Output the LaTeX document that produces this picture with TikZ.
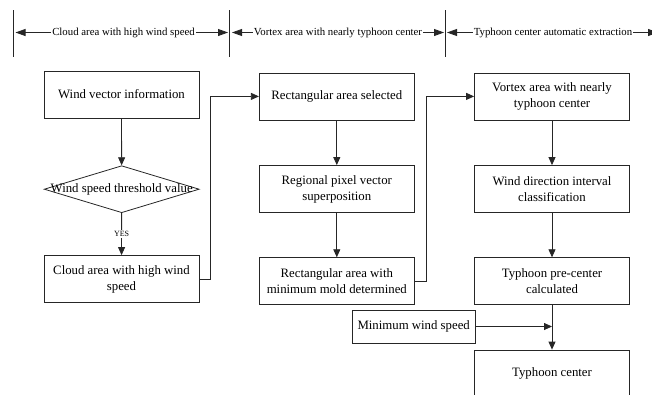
\documentclass[tikz,border=0pt]{standalone}
\usepackage{fontspec}
\setmainfont{Liberation Serif}
\usetikzlibrary{arrows.meta,shapes.geometric}
\begin{document}
\begin{tikzpicture}[x=1pt,y=-1pt,
  box/.style={draw=black!85, line width=0.8pt, minimum width=155pt, minimum height=47pt,
    inner sep=2pt, align=center, font=\fontsize{12.8}{16}\selectfont},
  dia/.style={draw=black!85, line width=0.8pt, diamond, minimum width=155pt, minimum height=47pt, inner sep=0pt},
  arr/.style={draw=black!85, line width=0.8pt, -{Triangle[length=8pt,width=7pt]}},
  harr/.style={draw=black!85, line width=0.8pt, -{Triangle[length=10pt,width=7pt]}},
  vline/.style={draw=black!85, line width=0.8pt},
  htxt/.style={inner sep=1pt, font=\fontsize{10.8}{13}\selectfont},
  yes/.style={fill=white, inner sep=1pt, font=\fontsize{8}{10}\selectfont}]
\useasboundingbox (0,0) rectangle (652,394);
% header
\coordinate (v1t) at (13.5,10); \coordinate (v1b) at (13.5,57);
\coordinate (v2t) at (229,10);  \coordinate (v2b) at (229,57);
\coordinate (v3t) at (445,10);  \coordinate (v3b) at (445,57);
\draw[vline] (v1t) -- (v1b);
\draw[vline] (v2t) -- (v2b);
\draw[vline] (v3t) -- (v3b);
\node[htxt] (h1) at (123.5,32.5) {Cloud area with high wind speed};
\node[htxt] (h2) at (338,32.5) {Vortex area with nearly typhoon center};
\node[htxt] (h3) at (553,32.5) {Typhoon center automatic extraction};
\coordinate (a1l) at (15.5,32.5); \coordinate (a1r) at (228,32.5);
\coordinate (a2l) at (232,32.5); \coordinate (a2r) at (444,32.5);
\coordinate (a3l) at (447,32.5); \coordinate (a3r) at (658,32.5);
\draw[harr] (h1.west) -- (a1l);
\draw[harr] (h1.east) -- (a1r);
\draw[harr] (h2.west) -- (a2l);
\draw[harr] (h2.east) -- (a2r);
\draw[harr] (h3.west) -- (a3l);
\draw[harr] (h3.east) -- (a3r);
% left column
\node[box] (wvi) at (121.5,94.5) {Wind vector information};
\node[dia] (thr) at (121.7,189.2) {};
\node[font=\fontsize{12.8}{16}\selectfont, inner sep=0pt] (thrt) at (thr) {Wind speed threshold value};
\node[box] (cloud) at (121.5,279) {Cloud area with high wind\\speed};
% middle column
\node[box] (rsel) at (336.8,96.4) {Rectangular area selected};
\node[box] (reg) at (336.8,189) {Regional pixel vector\\superposition};
\node[box] (rmin) at (336.8,281.2) {Rectangular area with\\minimum mold determined};
% right column
\node[box] (vor) at (552,96.4) {Vortex area with nearly\\typhoon center};
\node[box] (wdir) at (552,189) {Wind direction interval\\classification};
\node[box] (pre) at (552,281.2) {Typhoon pre-center\\calculated};
\node[box, minimum width=122.7pt, minimum height=33pt] (minw) at (413.7,326.5) {Minimum wind speed};
\node[box] (tc) at (552,373.5) {Typhoon center};
% connectors
\draw[arr] (wvi) -- (thr);
\draw[arr] (thr) -- node[yes] {YES} (cloud);
\draw[arr] (cloud.east) -- ++(11,0) |- (rsel.west);
\draw[arr] (rsel) -- (reg);
\draw[arr] (reg) -- (rmin);
\draw[arr] (rmin.east) -- ++(11.5,0) |- (vor.west);
\draw[arr] (vor) -- (wdir);
\draw[arr] (wdir) -- (pre);
\draw[arr] (pre) -- (tc);
\draw[arr] (minw.east) -- (minw.east -| pre.south);
\end{tikzpicture}
\end{document}
